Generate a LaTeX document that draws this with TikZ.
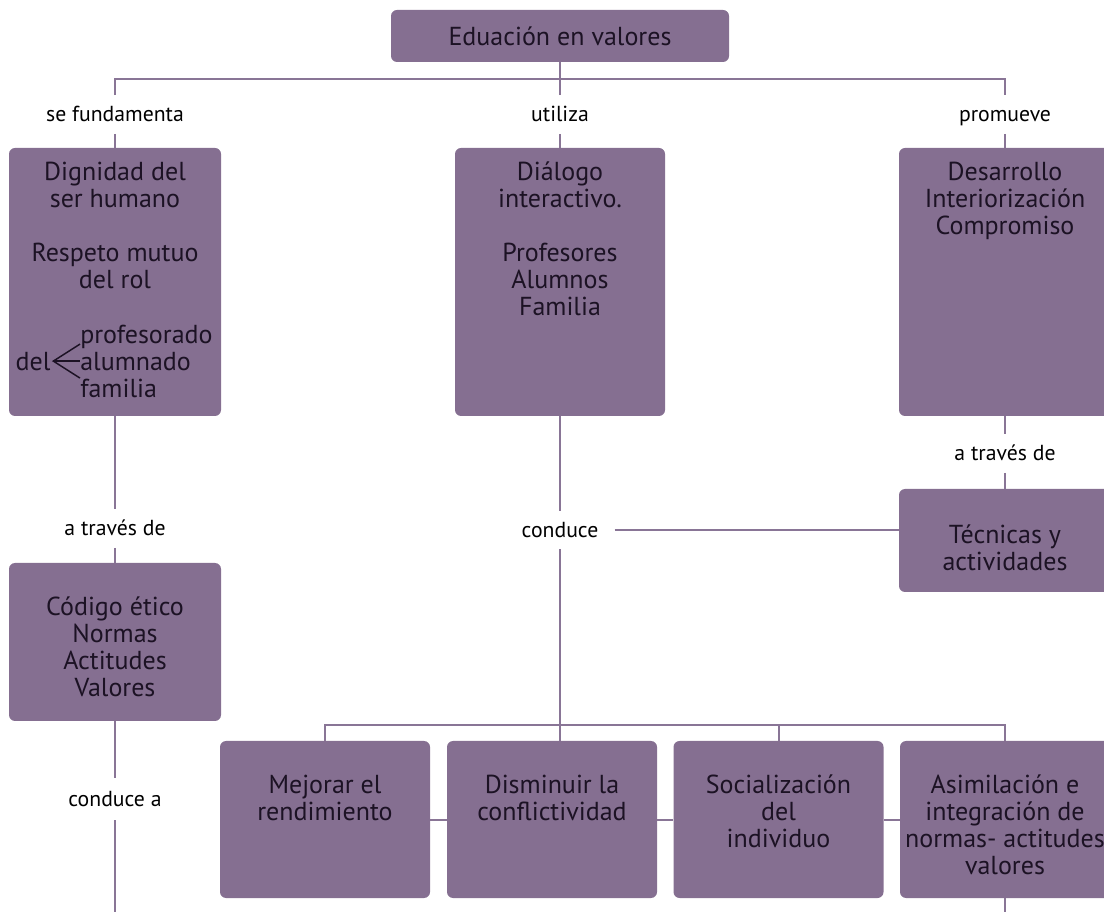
\documentclass[tikz,border=0pt]{standalone}
\usepackage{fontspec}
\newfontfamily\myriad{PT Sans}
\usetikzlibrary{positioning}
\definecolor{cajafill}{RGB}{133,111,145}
\definecolor{linea}{RGB}{137,117,150}
\definecolor{tinta}{RGB}{28,18,36}
\tikzset{
  caja/.style 2 args={fill=cajafill,rounded corners=4.5pt,minimum width=#1*0.75pt,minimum height=#2*0.75pt,inner sep=0pt},
  txt/.style={align=center,text=tinta,inner sep=0pt,font=\myriad\fontsize{19.5}{20.25}\selectfont},
  lbl/.style={text=black,inner sep=0pt,minimum height=28.5pt,text height=13pt,text depth=2pt,font=\myriad\fontsize{16.3}{18}\selectfont},
  con/.style={draw=linea,line width=1.5pt},
  flecha/.style={draw=tinta,line width=1.1pt}
}
\begin{document}
\begin{tikzpicture}[x=0.75pt,y=-0.75pt]
\useasboundingbox (0,0) rectangle (1104,912);
% title
\node[caja={338}{52},txt] (E) at (560,36) {Eduación en valores};
% labels on the lines
\node[lbl] (L1) at (115,114.5) {se fundamenta};
\node[lbl] (L2) at (560,114.5) {utiliza};
\node[lbl] (L3) at (1005,114.5) {promueve};
\node[lbl] (L4) at (115,528.5) {a través de};
\node[lbl,inner xsep=12pt] (Lc) at (560,530) {conduce};
\node[lbl] (L6) at (1005,453.5) {a través de};
\node[lbl,minimum height=31.5pt] (L5) at (115,799) {conduce a};
% first row
\node[caja={212}{268}] (D1) at (115,282) {};
\node[caja={210}{268}] (D2) at (560,282) {};
\node[caja={212}{268}] (D3) at (1005,282) {};
\node[txt,below=10.5pt of D1.north] (D1t) {Dignidad del\\ser humano\\[20.25pt]Respeto mutuo\\del rol};
\node[txt,below=10.5pt of D2.north] (D2t) {Diálogo\\interactivo.\\[20.25pt]Profesores\\Alumnos\\Familia};
\node[txt,below=10.5pt of D3.north] (D3t) {Desarrollo\\Interiorización\\Compromiso};
\node[txt,align=left,anchor=north west] (D1l) at (80,324.5) {profesorado\\alumnado\\familia};
\coordinate[left=20pt of D1l.west] (v);
\node[txt,left=2pt of v] (D1d) {del};
\draw[flecha] ([yshift=12.75pt]D1l.west) -- (v) -- ([yshift=-12.75pt]D1l.west);
\draw[flecha] (v) -- (D1l.west);
% left and right boxes
\node[caja={212}{158}] (C1) at (115,642) {};
\node[txt,below=25.5pt of C1.north] (C1t) {Código ético\\Normas\\Actitudes\\Valores};
\node[caja={212}{103}] (A1) at (1005,540.5) {};
\node[txt,below=26.5pt of A1.north] (A1t) {Técnicas y\\actividades};
% bottom row
\foreach \x/\t [count=\n] in {325/{Mejorar el\\rendimiento},552/{Disminuir la\\conflictividad},778.5/{Socialización\\del\\individuo},1005/{Asimilación e\\integración de\\normas- actitudes\\valores}}{
  \node[caja={210}{157}] (R\n) at (\x,819.5) {};
  \node[txt,below=25.5pt of R\n.north] (R\n t) {\t};
}
% connectors
\coordinate (top) at (560,79);
\coordinate (bar) at (560,725);
\coordinate (fin) at (115,912);
\draw[con] (E.south) -- (top);
\draw[con] (L1.north) -- (L1.north |- top) -- (L3.north |- top) -- (L3.north);
\draw[con] (L2.north) -- (L2.north |- top);
\draw[con] (L1.south) -- (D1.north);
\draw[con] (L2.south) -- (D2.north);
\draw[con] (L3.south) -- (D3.north);
\draw[con] (D1.south) -- (L4.north);
\draw[con] (L4.south) -- (C1.north);
\draw[con] (C1.south) -- (L5.north);
\draw[con] (L5.south) -- (fin);
\draw[con] (D2.south) -- (Lc.north);
\draw[con] (D3.south) -- (L6.north);
\draw[con] (L6.south) -- (A1.north);
\draw[con] (Lc.east) -- (Lc.east -| A1.west);
\draw[con] (Lc.south) -- (Lc.south |- R2.north);
\draw[con] (R1.north) -- (R1.north |- bar) -- (R4.north |- bar) -- (R4.north);
\draw[con] (R3.north) -- (R3.north |- bar);
\draw[con] (R1.east) -- (R2.west) (R2.east) -- (R3.west) (R3.east) -- (R4.west);
\draw[con] (R4.south) -- (R4.south |- fin);
\end{tikzpicture}
\end{document}
